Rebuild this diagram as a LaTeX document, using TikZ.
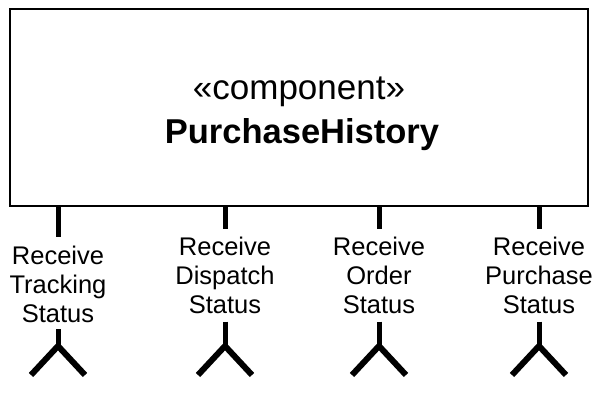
\documentclass[tikz,border=0pt]{standalone}
\usepackage{fontspec}
\setmainfont{Liberation Sans}
\usetikzlibrary{calc}
\tikzset{
  compbox/.style={draw, line width=2pt, inner sep=0pt, minimum width=578pt, minimum height=197pt},
  titletext/.style={anchor=base, inner sep=0pt, font=\fontsize{35}{40}\selectfont},
  portlabel/.style={anchor=north, align=center, inner sep=0pt, font=\fontsize{25.5}{29}\selectfont},
  portline/.style={line width=5pt},
  socketline/.style={line width=6pt, line join=miter},
}

\begin{document}
\begin{tikzpicture}[x=1pt, y=-1pt]
        \useasboundingbox (0,0) rectangle (598,400);
        % component
        \node[compbox] (comp) at (299,107.5) {};
        \node[titletext] (stereo) at (299,99) {«component»};
        \node[titletext, font=\fontsize{34.5}{40}\selectfont\bfseries] (name) at (302,143) {PurchaseHistory};
        % port 1
        \coordinate (t1) at (58,206);
        \node[portlabel] (l1) at (58,246) {Receive\\Tracking\\Status};
        \coordinate (s1) at (58,346);
        \draw[portline, shorten >=9pt] (t1) -- (l1.north);
        \draw[portline, shorten <=6pt] (l1.south) -- (s1);
        \draw[socketline] ($(s1)+(-27,29)$) -- (s1) -- ($(s1)+(27,29)$);
        % port 2
        \coordinate (t2) at (225,206);
        \node[portlabel] (l2) at (225,237) {Receive\\Dispatch\\Status};
        \coordinate (s2) at (225,346);
        \draw[portline, shorten >=8pt] (t2) -- (l2.north);
        \draw[portline, shorten <=7.5pt] (l2.south) -- (s2);
        \draw[socketline] ($(s2)+(-27,29)$) -- (s2) -- ($(s2)+(27,29)$);
        % port 3
        \coordinate (t3) at (379,206);
        \node[portlabel] (l3) at (379,237) {Receive\\Order\\Status};
        \coordinate (s3) at (379,346);
        \draw[portline, shorten >=8pt] (t3) -- (l3.north);
        \draw[portline, shorten <=7.5pt] (l3.south) -- (s3);
        \draw[socketline] ($(s3)+(-27,29)$) -- (s3) -- ($(s3)+(27,29)$);
        % port 4
        \coordinate (t4) at (539,206);
        \node[portlabel] (l4) at (539,237) {Receive\\Purchase\\Status};
        \coordinate (s4) at (539,346);
        \draw[portline, shorten >=8pt] (t4) -- (l4.north);
        \draw[portline, shorten <=7.5pt] (l4.south) -- (s4);
        \draw[socketline] ($(s4)+(-27,29)$) -- (s4) -- ($(s4)+(27,29)$);
\end{tikzpicture}
\end{document}
